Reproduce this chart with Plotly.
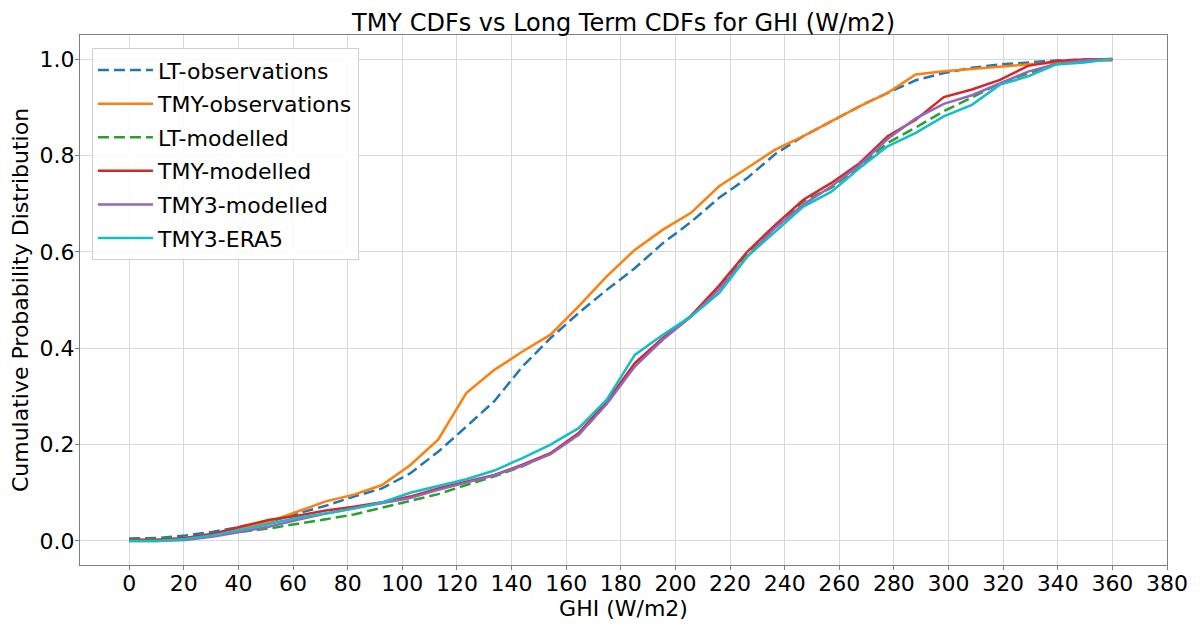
import plotly.graph_objects as go

# GHI bin values (W/m2)
ghi = [0, 10.29, 20.57, 30.86, 41.14, 51.43, 61.71, 72.0, 82.29, 92.57,
       102.86, 113.14, 123.43, 133.71, 144.0, 154.29, 164.57, 174.86, 185.14, 195.43,
       205.71, 216.0, 226.29, 236.57, 246.86, 257.14, 267.43, 277.71, 288.0, 298.29,
       308.57, 318.86, 329.14, 339.43, 349.71, 360.0]

lt_obs = [0.005, 0.006, 0.011, 0.019, 0.030, 0.040, 0.057, 0.073, 0.092, 0.109,
          0.140, 0.185, 0.237, 0.290, 0.362, 0.421, 0.473, 0.521, 0.566, 0.618,
          0.662, 0.712, 0.753, 0.803, 0.840, 0.871, 0.902, 0.930, 0.956, 0.971,
          0.982, 0.989, 0.993, 0.997, 0.999, 1.0]

tmy_obs = [0.003, 0.003, 0.006, 0.015, 0.026, 0.040, 0.061, 0.082, 0.096, 0.116,
           0.157, 0.210, 0.307, 0.355, 0.393, 0.428, 0.487, 0.549, 0.604, 0.646,
           0.681, 0.736, 0.774, 0.812, 0.840, 0.871, 0.902, 0.930, 0.968, 0.975,
           0.980, 0.984, 0.989, 0.993, 0.997, 0.997]

lt_mod = [0.004, 0.004, 0.006, 0.012, 0.019, 0.026, 0.035, 0.045, 0.055, 0.069,
          0.082, 0.097, 0.116, 0.134, 0.155, 0.182, 0.220, 0.285, 0.367, 0.420,
          0.467, 0.527, 0.597, 0.654, 0.705, 0.733, 0.778, 0.826, 0.858, 0.892,
          0.920, 0.950, 0.970, 0.990, 0.997, 1.0]

tmy_mod = [0.002, 0.002, 0.006, 0.015, 0.030, 0.044, 0.052, 0.063, 0.071, 0.080,
           0.092, 0.109, 0.123, 0.137, 0.158, 0.182, 0.224, 0.289, 0.369, 0.421,
           0.467, 0.530, 0.600, 0.656, 0.708, 0.743, 0.784, 0.840, 0.874, 0.921,
           0.937, 0.957, 0.986, 0.996, 0.999, 1.0]

tmy3_mod = [0.0, 0.0, 0.002, 0.009, 0.019, 0.030, 0.044, 0.057, 0.068, 0.078,
            0.089, 0.106, 0.121, 0.136, 0.156, 0.180, 0.220, 0.284, 0.362, 0.418,
            0.465, 0.522, 0.590, 0.650, 0.698, 0.736, 0.780, 0.834, 0.877, 0.907,
            0.925, 0.950, 0.974, 0.990, 0.997, 1.0]

tmy3_era5 = [0.0, 0.0, 0.004, 0.012, 0.023, 0.036, 0.048, 0.057, 0.067, 0.080,
             0.100, 0.114, 0.128, 0.146, 0.172, 0.200, 0.234, 0.293, 0.386, 0.428,
             0.466, 0.514, 0.590, 0.642, 0.694, 0.725, 0.774, 0.819, 0.847, 0.881,
             0.905, 0.947, 0.964, 0.989, 0.993, 1.0]

series = [
    ("LT-observations", lt_obs, "#1f77b4", "11px,5px"),
    ("TMY-observations", tmy_obs, "#ff7f0e", "solid"),
    ("LT-modelled", lt_mod, "#2ca02c", "11px,5px"),
    ("TMY-modelled", tmy_mod, "#d62728", "solid"),
    ("TMY3-modelled", tmy3_mod, "#9467bd", "solid"),
    ("TMY3-ERA5", tmy3_era5, "#12bfc6", "solid"),
]

fig = go.Figure()
for name, vals, col, dash in series:
    # one legend group per trace so tracegroupgap spaces the rows like matplotlib
    fig.add_trace(go.Scatter(x=ghi, y=vals, mode="lines", name=name, legendgroup=name,
                             line=dict(color=col, width=2.5, dash=dash)))

axis_style = dict(showgrid=True, gridcolor="#d9d9d9", gridwidth=1,
                  showline=True, linecolor="#7f7f7f", linewidth=1, mirror=True,
                  ticks="outside", ticklen=4, tickcolor="#7f7f7f", automargin=False,
                  zeroline=False, tickfont=dict(size=22, color="black"))

# page body has an 8px margin, so the margins are shifted by that much
fig.update_layout(
    width=1200, height=627,
    font=dict(family="DejaVu Sans", color="black"),
    plot_bgcolor="white", paper_bgcolor="white",
    margin=dict(l=72, r=41, t=27, b=70, autoexpand=False),
    title=dict(text="TMY CDFs vs Long Term CDFs for GHI (W/m2)", x=0.5, xanchor="center",
               xref="paper", y=0.976, yanchor="middle", font=dict(size=24)),
    legend=dict(x=0.011, y=0.975, xanchor="left", yanchor="top",
                bgcolor="rgba(255,255,255,0.85)", bordercolor="#d0d0d0", borderwidth=1,
                font=dict(size=22), tracegroupgap=2, itemwidth=55),
    showlegend=True,
)
fig.update_xaxes(range=[-18, 380], tickmode="array", tickvals=list(range(0, 400, 20)),
                 ticklabelstandoff=-5,
                 title=dict(text="GHI (W/m2)", font=dict(size=22), standoff=0), **axis_style)
fig.update_yaxes(range=[-0.05, 1.05], tickmode="array", tickvals=[0, 0.2, 0.4, 0.6, 0.8, 1.0],
                 tickformat=".1f", ticklabelstandoff=-4,
                 title=dict(text="Cumulative Probability Distribution", font=dict(size=22), standoff=6),
                 **axis_style)

fig.write_html("out.html")
